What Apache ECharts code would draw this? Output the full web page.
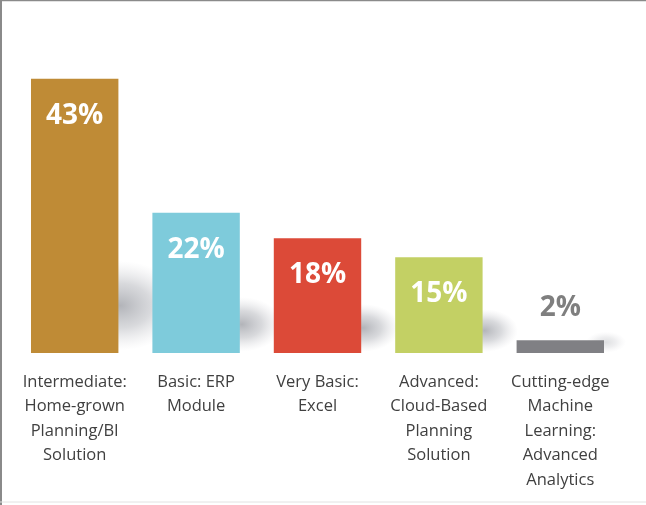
<!DOCTYPE html>
<html>
<head>
<meta charset="utf-8">
<script src="https://cdn.jsdelivr.net/npm/echarts@6/dist/echarts.min.js"></script>
<style>
  html, body { margin: 0; padding: 0; background: #fff; }
  #chart { width: 646px; height: 505px; }
</style>
</head>
<body>
<div id="chart"></div>
<script>
// Planning solution categories and their share of respondents (%)
const categories = [
  'Intermediate:\nHome-grown\nPlanning/BI\nSolution',
  'Basic: ERP\nModule',
  'Very Basic:\nExcel',
  'Advanced:\nCloud-Based\nPlanning\nSolution',
  'Cutting-edge\nMachine\nLearning:\nAdvanced\nAnalytics'
];
const shares = [43, 22, 18, 15, 2];
const barColors = ['#BF8B36', '#7ECBDB', '#DC4A38', '#C3D064', '#808084'];

const chart = echarts.init(document.getElementById('chart'));
const BAR_RATIO = 0.72;

// soft cast shadow to the right of each bar
function renderShadow(params, api) {
  const idx = api.value(0);
  const v = api.value(1);
  const base = api.coord([idx, 0]);
  const top = api.coord([idx, v]);
  const band = api.size([1, 0])[0];
  const h = base[1] - top[1];
  const right = base[0] + band * BAR_RATIO / 2;
  const ry = 0.13 * h + 9;
  const rx = 18 + 0.16 * h;
  const strength = Math.min(1, 0.35 + h / 150);
  return {
    type: 'circle',
    shape: { cx: 0, cy: 0, r: 1 },
    x: right + 2,
    y: base[1] - 0.14 * h - 9,
    scaleX: rx,
    scaleY: ry,
    style: {
      fill: {
        type: 'radial', x: 0.5, y: 0.5, r: 0.5,
        colorStops: [
          { offset: 0, color: 'rgba(165,167,173,' + (0.85 * strength) + ')' },
          { offset: 0.5, color: 'rgba(178,180,186,' + (0.5 * strength) + ')' },
          { offset: 1, color: 'rgba(210,210,215,0)' }
        ]
      }
    },
    silent: true
  };
}

chart.setOption({
  animation: false,
  backgroundColor: '#ffffff',
  grid: { left: 14, right: 25, top: 34, bottom: 152, containLabel: false },
  xAxis: {
    type: 'category',
    data: categories,
    axisLine: { show: false },
    axisTick: { show: false },
    axisLabel: {
      interval: 0,
      margin: 17,
      color: '#404040',
      fontFamily: 'Open Sans',
      fontSize: 16.5,
      lineHeight: 24.5,
      align: 'center'
    }
  },
  yAxis: {
    type: 'value',
    min: 0,
    max: 50,
    show: false,
    splitLine: { show: false }
  },
  graphic: [
    { type: 'line', shape: { x1: 0, y1: 0.5, x2: 646, y2: 0.5 }, style: { stroke: '#8a8a8a', lineWidth: 1.5 } },
    { type: 'line', shape: { x1: 1, y1: 0, x2: 1, y2: 505 }, style: { stroke: '#8a8a8a', lineWidth: 2 } },
    { type: 'line', shape: { x1: 0, y1: 502, x2: 646, y2: 502 }, style: { stroke: '#e2e2e2', lineWidth: 1 } }
  ],
  series: [
    {
      type: 'custom',
      z: 1,
      renderItem: renderShadow,
      data: shares.map((v, i) => [i, v]),
      encode: { x: 0, y: 1 },
      silent: true
    },
    {
      type: 'bar',
      z: 3,
      barWidth: (BAR_RATIO * 100) + '%',
      data: shares.map((v, i) => ({
        value: v,
        itemStyle: { color: barColors[i] },
        label: v < 5
          ? { position: 'top', distance: 18, color: '#7F7F7F' }
          : { position: 'insideTop', distance: 23, color: '#ffffff' }
      })),
      label: {
        show: true,
        formatter: '{c}%',
        fontFamily: 'Open Sans',
        fontWeight: 'bold',
        fontSize: 28
      }
    }
  ]
});
</script>
</body>
</html>
